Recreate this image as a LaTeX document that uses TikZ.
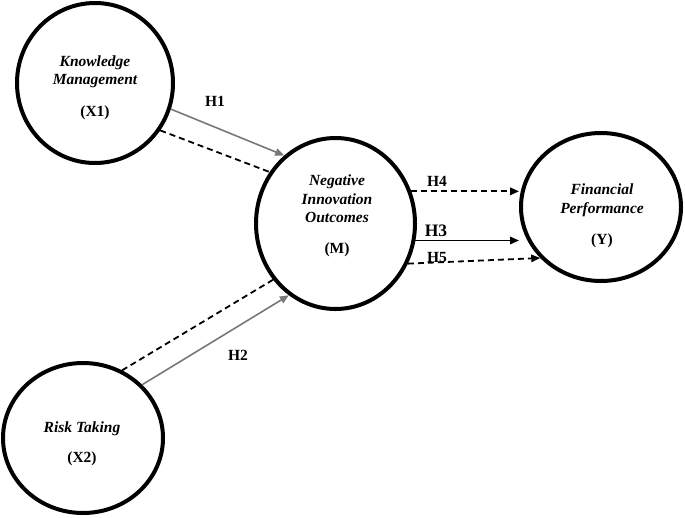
\documentclass[tikz,border=0pt]{standalone}
\usepackage{fontspec}
\setmainfont{Liberation Serif}
\usetikzlibrary{arrows.meta,shapes.geometric}
\definecolor{arrgray}{RGB}{120,120,120}
\begin{document}
\begin{tikzpicture}[x=1pt,y=-1pt,
  ell/.style={ellipse, draw, line width=4pt, inner sep=0pt},
  txt/.style={align=center, font=\fontsize{15.5}{18.5}\selectfont\bfseries\itshape},
  hyp/.style={font=\fontsize{15.5}{18}\selectfont\bfseries, inner sep=0pt},
  garrow/.style={draw=arrgray, line width=1.6pt, -{Triangle[length=9pt,width=7.5pt]}},
  dline/.style={line width=1.8pt, dash pattern=on 6pt off 4pt},
  barrow/.style={line width=1.6pt, -{Triangle[length=9pt,width=7.5pt]}}]
\useasboundingbox (0,0) rectangle (685,517);
% constructs
\node[ell, minimum width=156pt, minimum height=160pt] (X1) at (95,83) {};
\node[ell, minimum width=159pt, minimum height=171pt] (M) at (335.5,223.5) {};
\node[ell, minimum width=160pt, minimum height=148pt] (Y) at (601,207) {};
\node[ell, minimum width=160pt, minimum height=150pt] (X2) at (83,438) {};
% texts
\node[txt] (X1t) at (95,88) {Knowledge\\Management\\[13.5pt]\upshape(X1)};
\node[txt] (Mt) at (337,216) {Negative\\Innovation\\Outcomes\\[12.5pt]\upshape(M)};
\node[txt] (Yt) at (602,216) {Financial\\Performance\\[12.5pt]\upshape(Y)};
\node[txt] (X2t) at (82,444) {Risk Taking\\[11.5pt]\upshape(X2)};
% connectors
\draw[garrow] (X1.-19) -- (M.127);
\draw[dline] (X1.-36) -- (M.142);
\draw[garrow] (X2.42) -- (M.237);
\draw[dline] (X2.60.5) -- (M.222.6);
\draw[barrow, dline] (M.23.5) -- (M.23.5 -| Y.west);
\draw[barrow] (M.-12.4) -- (M.-12.4 -| Y.west);
\draw[barrow, dline] (M.-29.5) -- (Y.220.4);
% hypothesis labels
\node[hyp] (H1) at (215,101) {H1};
\node[hyp] (H2) at (238,355) {H2};
\node[hyp, font=\fontsize{17.5}{20}\selectfont\bfseries] (H3) at (436,231) {H3};
\node[hyp] (H4) at (437,181) {H4};
\node[hyp] (H5) at (437,257) {H5};
\end{tikzpicture}
\end{document}
